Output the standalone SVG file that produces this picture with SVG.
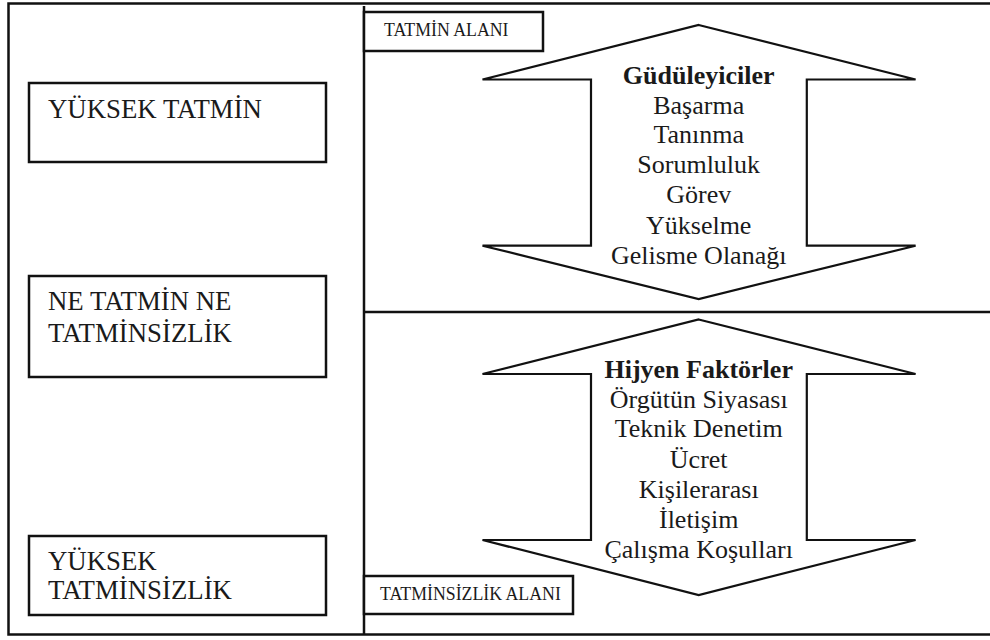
<svg xmlns="http://www.w3.org/2000/svg" width="990" height="640" viewBox="0 0 990 640">
<style>
.ln{fill:none;stroke:#111;stroke-width:2.5}
.bx{fill:#fff;stroke:#111;stroke-width:2.5}
.ar{fill:#fff;stroke:#111;stroke-width:2.2;stroke-linejoin:miter}
.t{fill:#1a1a1a;font-family:'Liberation Serif','Times New Roman',serif}
.big{font-size:26.8px}
.sm{font-size:17.8px}
.it{font-size:26px;text-anchor:middle}
.hd{font-size:26px;font-weight:bold;text-anchor:middle}
</style>
<rect width="990" height="640" fill="#fff"/>
<g id="frame">
<rect class="ln" x="8.5" y="3.5" width="990" height="631"/>
<line class="ln" x1="364" y1="6" x2="364" y2="635"/>
<line class="ln" x1="364" y1="312" x2="992" y2="312"/>
</g>
<g class="t">
<g id="yuksek-tatmin">
<rect class="bx" x="29" y="83" width="297" height="79"/>
<text class="big" x="48" y="118">YÜKSEK TATMİN</text>
</g>
<g id="ne-tatmin">
<rect class="bx" x="29" y="276" width="297" height="101"/>
<text class="big" x="48" y="310">NE TATMİN NE</text>
<text class="big" x="48" y="342">TATMİNSİZLİK</text>
</g>
<g id="yuksek-tatminsizlik">
<rect class="bx" x="29" y="536" width="297" height="79"/>
<text class="big" x="48" y="570">YÜKSEK</text>
<text class="big" x="48" y="599">TATMİNSİZLİK</text>
</g>
<g id="tatmin-alani">
<rect class="bx" x="364" y="12" width="179" height="39"/>
<text class="sm" x="384" y="36">TATMİN ALANI</text>
</g>
<g id="guduleyiciler">
<polygon class="ar" points="698.7,25 915.6,79.5 806.8,79.5 806.8,245.7 915.6,245.7 698.7,299 482.5,245.7 591,245.7 591,79.5 482.5,79.5"/>
<text class="hd" x="698.7" y="84">Güdüleyiciler</text>
<text class="it" x="698.7" y="114">Başarma</text>
<text class="it" x="698.7" y="143">Tanınma</text>
<text class="it" x="698.7" y="173">Sorumluluk</text>
<text class="it" x="698.7" y="203">Görev</text>
<text class="it" x="698.7" y="234">Yükselme</text>
<text class="it" x="698.7" y="264">Gelisme Olanağı</text>
</g>
<g id="hijyen">
<polygon class="ar" points="698.7,319.5 915.6,374 806.8,374 806.8,540 915.6,540 698.7,595 482.5,540 591,540 591,374 482.5,374"/>
<text class="hd" x="698.7" y="378">Hijyen Faktörler</text>
<text class="it" x="698.7" y="408">Örgütün Siyasası</text>
<text class="it" x="698.7" y="437">Teknik Denetim</text>
<text class="it" x="698.7" y="468">Ücret</text>
<text class="it" x="698.7" y="498">Kişilerarası</text>
<text class="it" x="698.7" y="528">İletişim</text>
<text class="it" x="698.7" y="558">Çalışma Koşulları</text>
</g>
<g id="tatminsizlik-alani">
<rect class="bx" x="364" y="576" width="209" height="38"/>
<text class="sm" x="380" y="600">TATMİNSİZLİK ALANI</text>
</g>
</g>
<g id="connectors"/>
</svg>
